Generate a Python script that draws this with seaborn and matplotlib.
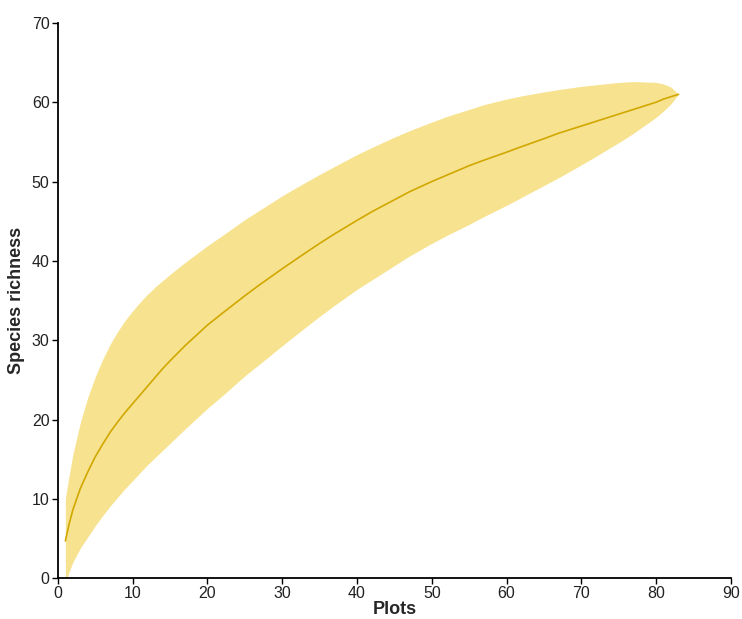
import numpy as np
import pandas as pd
import matplotlib
matplotlib.use("Agg")
import matplotlib.pyplot as plt
import seaborn as sns

# ── Data ─────────────────────────────────────────────────────────────────────
plots = [1, 1.5, 2, 3, 4, 5, 6, 7, 8, 9, 10, 11, 12, 13, 14, 15, 17, 20, 22,
         25, 27, 30, 32, 35, 37, 40, 42, 45, 47, 50, 52, 55, 57, 60, 62, 65,
         67, 70, 72, 75, 77, 80, 81, 82, 83]
richness = [4.7, 6.8, 8.6, 11.3, 13.4, 15.3, 16.9, 18.4, 19.7, 20.9, 22.0,
            23.1, 24.2, 25.3, 26.4, 27.4, 29.3, 31.9, 33.4, 35.6, 37.0,
            39.0, 40.3, 42.2, 43.4, 45.1, 46.2, 47.7, 48.7, 50.0, 50.8,
            52.0, 52.7, 53.7, 54.4, 55.4, 56.1, 57.0, 57.6, 58.5, 59.1,
            60.0, 60.4, 60.7, 61.0]
upper = [10.1, 12.9, 15.6, 19.6, 22.8, 25.4, 27.6, 29.5, 31.1, 32.5, 33.7,
         34.8, 35.8, 36.7, 37.5, 38.3, 39.8, 41.9, 43.2, 45.2, 46.4,
         48.2, 49.3, 50.9, 51.9, 53.4, 54.3, 55.6, 56.4, 57.5, 58.2,
         59.1, 59.7, 60.4, 60.8, 61.3, 61.6, 62.0, 62.2, 62.5, 62.6,
         62.5, 62.3, 61.9, 61.0]
lower = [-0.7, 0.8, 2.0, 3.8, 5.2, 6.6, 7.9, 9.1, 10.2, 11.3, 12.3,
         13.3, 14.3, 15.2, 16.1, 17.0, 18.8, 21.4, 23.0, 25.5, 27.0,
         29.3, 30.8, 33.0, 34.4, 36.4, 37.6, 39.4, 40.6, 42.2, 43.2,
         44.6, 45.6, 47.0, 48.0, 49.5, 50.5, 52.1, 53.2, 54.9, 56.1,
         58.1, 58.9, 59.8, 61.0]

BAND = "#F7E38F"
LINE = "#D1A700"

sns.set_style("ticks")
plt.rcParams["font.family"] = ["Liberation Sans", "DejaVu Sans"]

df = pd.DataFrame({"plots": plots, "richness": richness,
                   "upper": upper, "lower": lower})

fig = plt.figure(figsize=(7.42, 6.19), dpi=100)
ax = fig.add_axes([0.078, 0.066, 0.907, 0.897])

ax.fill_between(df["plots"], df["lower"], df["upper"],
                color=BAND, linewidth=0, zorder=1)
sns.lineplot(data=df, x="plots", y="richness", color=LINE,
             linewidth=1.2, ax=ax, zorder=2)

ax.set_xlim(0, 90)
ax.set_ylim(0, 70)
ax.set_xticks(range(0, 91, 10))
ax.set_yticks(range(0, 71, 10))
ax.tick_params(axis="both", labelsize=11.5, length=4, width=1,
               color="black", labelcolor="#222222", pad=2)
for s in ["left", "bottom"]:
    ax.spines[s].set_linewidth(1.3)
    ax.spines[s].set_color("black")
sns.despine(ax=ax)

ax.set_xlabel("Plots", fontsize=13, fontweight="bold", labelpad=0)
ax.set_ylabel("Species richness", fontsize=13, fontweight="bold", labelpad=5)

fig.savefig("out.png", dpi=100)
